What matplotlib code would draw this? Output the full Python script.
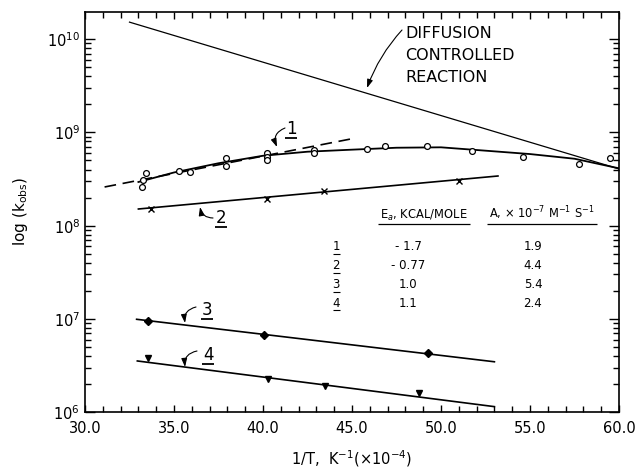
import matplotlib
matplotlib.use("Agg")
import matplotlib.pyplot as plt
import numpy as np

# ── data (x = 1/T x 1e4, y = k_obs) ─────────────────────────────────────────
diff_x = [32.5, 60.0]
diff_y = [1.52e10, 4.06e8]

fit1_x = [33.0, 35.0, 37.5, 40.0, 42.5, 45.0, 47.5, 50.0, 52.5, 55.0, 57.5, 60.0]
fit1_y = [2.94e8, 3.72e8, 4.67e8, 5.62e8, 6.21e8, 6.53e8, 6.85e8, 6.92e8,
          6.37e8, 5.86e8, 5.22e8, 4.12e8]
dash1_x = [31.1, 45.2]
dash1_y = [2.6e8, 8.7e8]
pts1_x = [33.18, 33.43, 33.24, 35.28, 35.9, 37.92, 37.92, 40.24, 40.24, 40.24,
          42.87, 42.87, 45.82, 46.85, 49.19, 51.76, 54.62, 57.75, 59.5]
pts1_y = [2.62e8, 3.70e8, 3.09e8, 3.88e8, 3.79e8, 5.27e8, 4.37e8, 5.97e8,
          5.50e8, 5.06e8, 6.47e8, 5.97e8, 6.64e8, 7.14e8, 7.14e8, 6.32e8,
          5.50e8, 4.58e8, 5.27e8]

fit2_x = [33.0, 53.2]
fit2_y = [1.51e8, 3.41e8]
pts2_x = [33.69, 40.24, 43.43, 51.03]
pts2_y = [1.51e8, 1.93e8, 2.37e8, 3.01e8]

fit3_x = [32.9, 53.0]
fit3_y = [9.93e6, 3.48e6]
pts3_x = [33.52, 40.07, 49.25]
pts3_y = [9.59e6, 6.75e6, 4.36e6]

fit4_x = [32.94, 53.0]
fit4_y = [3.55e6, 1.15e6]
pts4_x = [33.52, 40.3, 43.48, 48.76]
pts4_y = [3.79e6, 2.28e6, 1.93e6, 1.62e6]

# table inset
tab_ids = ["1", "2", "3", "4"]
tab_ea = ["- 1.7", "- 0.77", "1.0", "1.1"]
tab_a = ["1.9", "4.4", "5.4", "2.4"]

W, H = 639, 472
L, R, T, B = 85, 619, 11.7, 412.3


def fx(px):
    return (px - L) / (R - L)


def fy(py):
    return (B - py) / (B - T)


def underline(ax, x0, x1, y, lw=1.0):
    ax.plot([fx(x0), fx(x1)], [fy(y), fy(y)], color="black", lw=lw,
            transform=ax.transAxes, solid_capstyle="butt")


fig = plt.figure(figsize=(W / 100, H / 100), dpi=100)
ax = fig.add_axes([L / W, (H - B) / H, (R - L) / W, (B - T) / H])
ax.set_yscale("log")
ax.set_xlim(30, 60)
ax.set_ylim(1e6, 10 ** (6 + 400.6 / 93.3))

k = "black"
ax.plot(diff_x, diff_y, color=k, lw=0.9)
ax.plot(fit1_x, fit1_y, color=k, lw=1.3)
ax.plot(dash1_x, dash1_y, color=k, lw=1.2, ls=(0, (7, 4)))
ax.plot(pts1_x, pts1_y, "o", mfc="white", mec=k, mew=0.9, ms=4.2, ls="none")
ax.plot(fit2_x, fit2_y, color=k, lw=1.2)
ax.plot(pts2_x, pts2_y, "x", color=k, mew=1.0, ms=4.5, ls="none")
ax.plot(fit3_x, fit3_y, color=k, lw=1.2)
ax.plot(pts3_x, pts3_y, "D", color=k, ms=3.8, ls="none")
ax.plot(fit4_x, fit4_y, color=k, lw=1.2)
ax.plot(pts4_x, pts4_y, "v", color=k, ms=4.2, ls="none")

# ticks
ax.set_xticks(np.arange(30, 60.1, 5))
ax.set_xticks(np.arange(30, 60.1, 1), minor=True)
ax.set_xticklabels([f"{v:.1f}" for v in np.arange(30, 60.1, 5)])
ax.tick_params(which="both", direction="in", top=True, right=True, labelsize=10.5, width=1.0)
ax.tick_params(which="major", length=7)
ax.tick_params(which="minor", length=4)
ax.tick_params(axis="x", which="major", length=5, pad=6)
for s in ax.spines.values():
    s.set_linewidth(1.2)

ax.set_xlabel(r"1/T,  K$^{-1}$($\times$10$^{-4}$)", fontsize=10.5, labelpad=9)
ax.set_ylabel(r"log (k$_{\rm obs}$)", fontsize=11, labelpad=12)

tr = ax.transAxes
arrow = dict(arrowstyle="-|>,head_length=0.5,head_width=0.17", color=k, lw=0.8,
             shrinkA=0, shrinkB=0)

# diffusion label
for i, line in enumerate(["DIFFUSION", "CONTROLLED", "REACTION"]):
    ax.text(fx(405), fy(34 + 22 * i), line, transform=tr, fontsize=11.5,
            va="center", ha="left")
ax.annotate("", xy=(fx(367), fy(88)), xytext=(fx(402), fy(30)), xycoords=tr,
            textcoords=tr, arrowprops=dict(arrow, connectionstyle="arc3,rad=0.1"))

# curve labels (underlined numbers with curved arrows)
labels = [("1", 291, 129, 285, 128, 277, 147, 0.5),
          ("2", 221, 218, 213, 218, 200, 207, -0.4),
          ("3", 207, 310, 196, 307, 185, 323, 0.45),
          ("4", 208, 355, 197, 351, 185, 367, 0.45)]
for txt, tx, ty, ax0, ay0, hx, hy, rad in labels:
    ax.text(fx(tx), fy(ty), txt, transform=tr, fontsize=12, ha="center", va="center")
    underline(ax, tx - 6, tx + 6, ty + 8.5, lw=1.3)
    ax.annotate("", xy=(fx(hx), fy(hy)), xytext=(fx(ax0), fy(ay0)), xycoords=tr,
                textcoords=tr, arrowprops=dict(arrow, connectionstyle=f"arc3,rad={rad}"))

# table
ax.text(fx(424), fy(215), r"E$_a$, KCAL/MOLE", transform=tr, fontsize=8.3,
        ha="center", va="center")
ax.text(fx(542), fy(213), r"A, $\times$ 10$^{-7}$ M$^{-1}$ S$^{-1}$",
        transform=tr, fontsize=8.3, ha="center", va="center")
underline(ax, 378, 470, 224, lw=0.9)
underline(ax, 487, 597, 224, lw=0.9)
for i, (a, b, c) in enumerate(zip(tab_ids, tab_ea, tab_a)):
    py = 247 + 18.8 * i
    ax.text(fx(336), fy(py), a, transform=tr, fontsize=8.5, ha="center", va="center")
    underline(ax, 333, 340, py + 7, lw=0.8)
    ax.text(fx(408), fy(py), b, transform=tr, fontsize=8.5, ha="center", va="center")
    ax.text(fx(533), fy(py), c, transform=tr, fontsize=8.5, ha="center", va="center")

fig.savefig("out.png", dpi=100)
